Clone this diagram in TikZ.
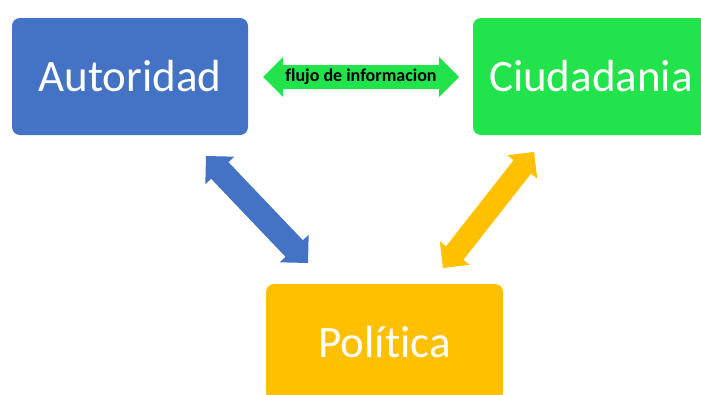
\documentclass[tikz,border=0pt]{standalone}
\usepackage{fontspec}
\setmainfont{Carlito}[Ligatures=NoCommon]
\usetikzlibrary{calc}
\definecolor{cblue}{HTML}{4472C4}
\definecolor{cgreen}{HTML}{23E34D}
\definecolor{corange}{HTML}{FFC000}
\newcommand\dblarr[5]{%
 \path let \p1=(#1), \p2=(#2) in \pgfextra{\xdef\dax{\x1}\xdef\day{\y1}\xdef\dbx{\x2}\xdef\dby{\y2}};
 \pgfmathsetmacro\dang{atan2(\dby-\day,\dbx-\dax)}%
 \pgfmathsetmacro\dlen{veclen(\dbx-\dax,\dby-\day)}%
 \begin{scope}[shift={(#1)},rotate=\dang]
 \fill[#3] (0pt,0pt) -- (#4pt,#4pt) -- (#4pt,#5pt) -- (\dlen pt-#4pt,#5pt) -- (\dlen pt-#4pt,#4pt)
   -- (\dlen pt,0pt) -- (\dlen pt-#4pt,-#4pt) -- (\dlen pt-#4pt,-#5pt) -- (#4pt,-#5pt) -- (#4pt,-#4pt) -- cycle;
 \end{scope}}
\tikzset{
  box/.style={rounded corners=8pt, minimum width=236pt, minimum height=117pt, inner sep=0pt,
    text=white, font=\fontsize{45}{54}\selectfont},
}
\begin{document}
\begin{tikzpicture}[x=1pt,y=-1pt]
\useasboundingbox (0,0) rectangle (701,394);
\clip (0,0) rectangle (701,394);
\node[box, fill=cblue] (aut) at (130,76.5) {Autoridad};
\node[box, fill=cgreen] (ciu) at (591,76.5) {Ciudadania};
\node[box, fill=corange, minimum width=237pt] (pol) at (384.5,342.5) {Política};
\coordinate (g1) at (263,77);
\coordinate (g2) at (459,77);
\coordinate (b1) at (206,156);
\coordinate (b2) at (308,263);
\coordinate (o1) at (534,152);
\coordinate (o2) at (443,268);
\dblarr{g1}{g2}{cgreen}{20}{12}
\dblarr{b1}{b2}{cblue}{20}{12}
\dblarr{o1}{o2}{corange}{19}{11}
\node[font=\bfseries\fontsize{18}{20}\selectfont, inner sep=0pt] (flujo) at ($(g1)!0.5!(g2)$) {flujo de informacion};
\end{tikzpicture}
\end{document}
